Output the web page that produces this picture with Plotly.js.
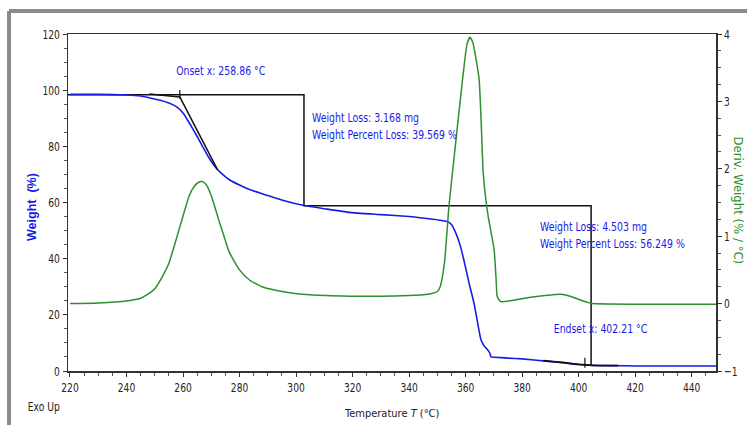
<!DOCTYPE html>
<html>
<head>
<meta charset="utf-8">
<script src="https://cdn.plot.ly/plotly-3.0.1.min.js"></script>
<style>html,body{margin:0;padding:0;background:#fff;}#chart{width:747px;height:425px;}</style>
</head>
<body>
<div id="chart"></div>
<script>
// Weight (%) TGA curve
const tempW = [220,230,240,245,248,252,255,257.5,260,262.2,264.5,266.9,269,271.7,274,276.4,280,283.5,290,295.2,302.9,310,318.8,330,340,347.1,351,353.5,355,356.5,358,359.5,361.2,363,365.4,366.5,367.7,368.5,369,370,375,380,388.3,395,400.1,405,411.9,420,448.6];
const weight = [98.5,98.5,98.3,97.9,97.3,96.4,95.4,94.2,91.9,88.4,84.4,80,76.2,72.3,70,68.1,66.2,64.6,62.5,60.8,58.9,57.8,56.5,55.7,55.0,54.2,53.7,53.2,52.2,49.2,45,39,31.4,24,11.2,9,7.7,6.5,5.0,4.9,4.6,4.3,3.5,2.9,2.3,2.0,1.9,1.8,1.8];
// Derivative weight (%/°C)
const tempD = [220,230,240,245,248,250,252,255,257.5,260,262.2,264,265.5,266.9,268.3,270,271.5,272.8,274.5,276.4,280,283.5,288,295,305,318.8,330,340,345,348,350,351,352.5,354.1,356,358.9,360.5,361.5,362.5,364,364.8,365.5,366.2,367,368,369.5,370.1,370.8,371.2,372.4,377,382.4,388,393.6,397,400.1,403,404.8,420,448.6];
const deriv = [0.0,0.01,0.04,0.08,0.15,0.22,0.35,0.6,0.94,1.3,1.6,1.74,1.8,1.81,1.76,1.6,1.4,1.22,1.0,0.76,0.5,0.35,0.25,0.18,0.13,0.11,0.11,0.12,0.13,0.15,0.18,0.25,0.6,1.44,2.2,3.32,3.85,3.95,3.88,3.55,3.32,2.7,1.96,1.6,1.29,0.95,0.8,0.35,0.1,0.03,0.05,0.09,0.12,0.14,0.11,0.06,0.02,0.0,-0.01,-0.01];
// Analysis constructions
const stepX = [219.3,302.8,302.8,404.4,404.4];
const stepY = [98.4,98.4,58.8,58.8,2.0];
const onsetT = 258.86, endsetT = 402.21;
const onsetTickY = [100.1,96.9];
const endsetTickY = [4.7,1.2];
const baseX = [248.1,258.86], baseY = [98.6,97.6];
const tanX = [258.86,272.2], tanY = [97.6,71.7];
const endTanX = [387.5,395,400.1,405,414], endTanY = [3.7,2.95,2.35,2.0,1.9];
// Texts
const onsetLabel = 'Onset x: 258.86 °C';
const endsetLabel = 'Endset x: 402.21 °C';
const loss1 = ['Weight Loss: 3.168 mg','Weight Percent Loss: 39.569 %'];
const loss2 = ['Weight Loss: 4.503 mg','Weight Percent Loss: 56.249 %'];
const xTicks = [220,240,260,280,300,320,340,360,380,400,420,440];

const NARROW = '"DejaVu Sans Condensed", "Liberation Sans Narrow", sans-serif';
const BLUE = '#1a1ae6', GREEN = '#2f8f2f', BLK = '#111';

const ln = (x,y,w,c,sm)=>({x:x,y:y,mode:'lines',line:sm?{color:c||BLK,width:w||1.5,shape:'spline',smoothing:sm}:{color:c||BLK,width:w||1.5},hoverinfo:'skip',showlegend:false,xaxis:'x',yaxis:'y'});

const traces = [
  Object.assign(ln(tempD,deriv,1.5,GREEN,0.5),{yaxis:'y2'}),
  ln(stepX,stepY,1.5,BLK),
  ln(tempW,weight,1.6,BLUE,0.4),
  ln([onsetT,onsetT],onsetTickY,1.2,BLK),
  ln([endsetT,endsetT],endsetTickY,1.2,BLK),
  ln(baseX,baseY,1.5,BLK),
  ln(tanX,tanY,1.5,BLK),
  ln(endTanX,endTanY,1.8,BLK,0.4)
];

const tickFont = {family:NARROW,size:13,color:'#222'};
const annFont = {family:NARROW,size:13,color:BLUE};

const layout = {
  width:747,height:425,
  margin:{l:68,r:31,t:34,b:54},
  paper_bgcolor:'#fff',plot_bgcolor:'#fff',
  showlegend:false,
  xaxis:{range:[219.3,448.6],tickvals:xTicks,ticks:'outside',ticklen:4,tickwidth:1,tickcolor:'#333',
    showline:true,linecolor:'#333',linewidth:1.5,mirror:true,showgrid:false,zeroline:false,
    tickfont:tickFont,minor:{dtick:5,tick0:220,ticks:'outside',ticklen:3,tickcolor:'#555'}},
  yaxis:{range:[0,120],dtick:20,ticks:'outside',ticklen:4,tickcolor:'#333',showline:true,linecolor:'#333',linewidth:1.5,
    showgrid:false,zeroline:false,tickfont:tickFont,minor:{dtick:5,ticks:'outside',ticklen:3,tickcolor:'#555'}},
  yaxis2:{range:[-1,4],dtick:1,overlaying:'y',side:'right',ticks:'outside',ticklen:4,tickcolor:'#333',showline:true,
    linecolor:'#333',linewidth:1.5,showgrid:false,zeroline:false,tickfont:tickFont,
    minor:{dtick:0.25,ticks:'outside',ticklen:3,tickcolor:'#555'}},
  shapes:[
    {type:'line',xref:'paper',yref:'paper',x0:-0.091,x1:1.1,y0:1.068,y1:1.068,line:{color:'#8a8a8a',width:4},layer:'below'},
    {type:'line',xref:'paper',yref:'paper',x0:-0.091,x1:-0.091,y0:1.068,y1:-0.2,line:{color:'#8a8a8a',width:4},layer:'below'}
  ],
  annotations:[
    {x:273.4,y:106.9,xref:'x',yref:'y',text:onsetLabel,showarrow:false,font:annFont,xanchor:'center',yanchor:'middle'},
    {x:304.9,y:87.1,xref:'x',yref:'y',text:loss1.join('<br>'),showarrow:false,font:annFont,xanchor:'left',yanchor:'middle',align:'left'},
    {x:385.6,y:48.3,xref:'x',yref:'y',text:loss2.join('<br>'),showarrow:false,font:annFont,xanchor:'left',yanchor:'middle',align:'left'},
    {x:407.9,y:15.0,xref:'x',yref:'y',text:endsetLabel,showarrow:false,font:annFont,xanchor:'center',yanchor:'middle'},
    {x:(32-68)/648,y:(371-207)/337,xref:'paper',yref:'paper',text:'<b>Weight  (%)</b>',textangle:-90,showarrow:false,
      font:{family:'"Liberation Sans", Arial, sans-serif',size:12.5,color:BLUE},xanchor:'center',yanchor:'middle'},
    {x:(738.5-68)/648,y:(371-200)/337,xref:'paper',yref:'paper',text:'Deriv. Weight (% / °C)',textangle:90,showarrow:false,
      font:{family:NARROW,size:13,color:GREEN},xanchor:'center',yanchor:'middle'},
    {x:(392-68)/648,y:(371-413)/337,xref:'paper',yref:'paper',text:'Temperature <i>T</i> (°C)',showarrow:false,
      font:{family:NARROW,size:11,color:'#222'},xanchor:'center',yanchor:'middle'},
    {x:(23-68)/648,y:(371-407)/337,xref:'paper',yref:'paper',text:'Exo Up',showarrow:false,
      font:{family:NARROW,size:12,color:'#222'},xanchor:'left',yanchor:'middle'}
  ]
};

// narrow the horizontal texts to match the condensed look of the original
function squeeze(sel, k){
  document.querySelectorAll(sel).forEach(t=>{
    const lines = t.querySelectorAll('tspan.line');
    const targets = lines.length ? Array.from(lines) : [t];
    targets.forEach(el=>{
      const w = el.getComputedTextLength();
      if(w>0){ el.setAttribute('textLength', (w*k).toFixed(1)); el.setAttribute('lengthAdjust','spacingAndGlyphs'); }
    });
  });
}

Plotly.newPlot('chart',traces,layout,{staticPlot:true,displayModeBar:false}).then(()=>{
  squeeze('#chart .xtick text, #chart .ytick text, #chart .y2tick text', 0.78);
  const anns = document.querySelectorAll('#chart .annotation');
  [0,1,2,3].forEach(i=>{ const t = anns[i] && anns[i].querySelector('.annotation-text'); if(t){ t.classList.add('sq-ann'); }});
  [7].forEach(i=>{ const t = anns[i] && anns[i].querySelector('.annotation-text'); if(t){ t.classList.add('sq-lab'); }});
  squeeze('#chart .sq-ann', 0.8);
  squeeze('#chart .sq-lab', 0.85);
});
</script>
</body>
</html>
